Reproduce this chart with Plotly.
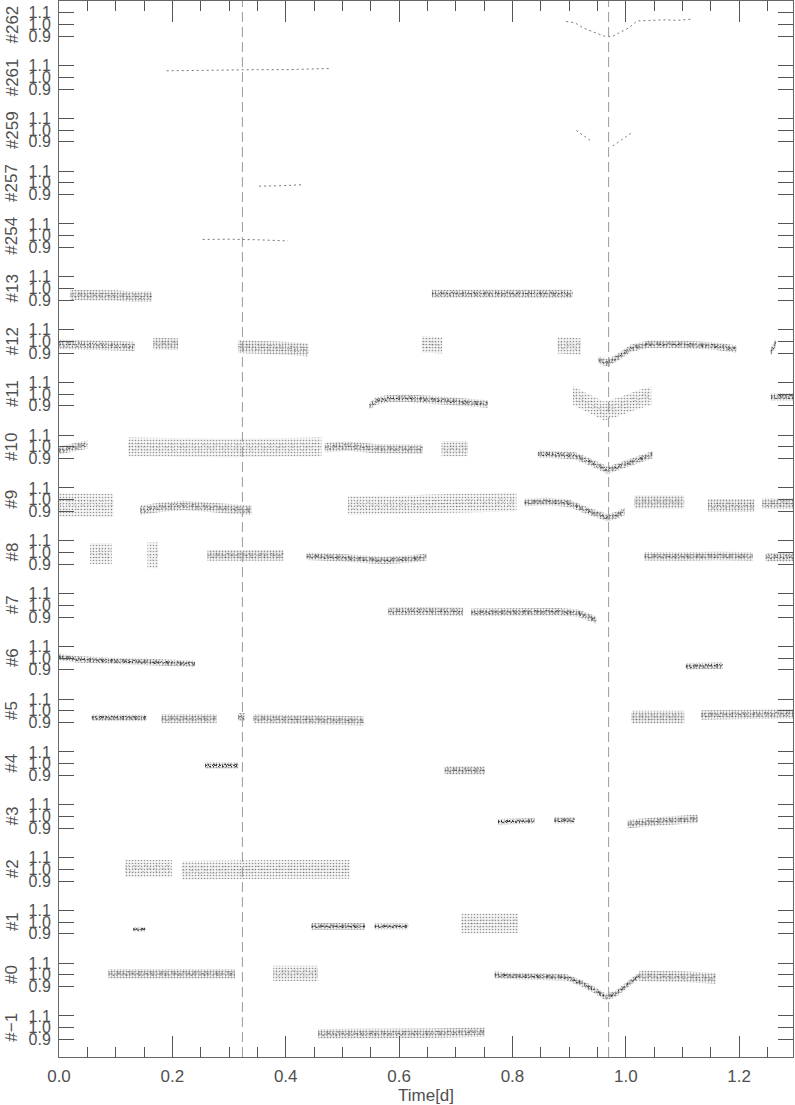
import plotly.graph_objects as go

# star labels, top to bottom
labels = ["#262", "#261", "#259", "#257", "#254", "#13", "#12", "#11", "#10",
          "#9", "#8", "#7", "#6", "#5", "#4", "#3", "#2", "#1", "#0", "#\u22121"]

# light curve pieces: (time [d], relative flux, visible scatter half-width)
lc_262 = [([0.895, 0.91, 0.925, 0.945, 0.962, 0.975, 0.99, 1.005, 1.02, 1.04, 1.07, 1.09, 1.115],
           [1.025, 1.015, 0.97, 0.93, 0.9, 0.895, 0.93, 0.97, 1.03, 1.035, 1.04, 1.035, 1.045], 0.0)]
lc_261 = [([0.19, 0.25, 0.3, 0.35, 0.4, 0.44, 0.48], [1.055, 1.06, 1.06, 1.065, 1.065, 1.07, 1.075], 0.0)]
lc_259 = [([0.9126, 0.939], [0.997, 0.906], 0.0),
          ([0.977, 1.0106], [0.864, 0.978], 0.0)]
lc_257 = [([0.353, 0.39, 0.432], [0.972, 0.975, 0.985], 0.0)]
lc_254 = [([0.2535, 0.3, 0.35, 0.404], [0.968, 0.97, 0.965, 0.955], 0.0)]
lc_13 = [([0.02, 0.06, 0.1, 0.13, 0.164], [0.945, 0.945, 0.94, 0.93, 0.93], 0.045),
         ([0.658, 0.72, 0.78, 0.84, 0.906], [0.955, 0.958, 0.955, 0.957, 0.953], 0.035)]
lc_12 = [([0.0, 0.05, 0.1, 0.134], [0.975, 0.97, 0.962, 0.955], 0.04),
         ([0.1665, 0.21], [0.98, 0.975], 0.05),
         ([0.316, 0.36, 0.4, 0.44], [0.955, 0.95, 0.94, 0.925], 0.055),
         ([0.64, 0.676], [0.975, 0.965], 0.07),
         ([0.88, 0.921], [0.965, 0.955], 0.07),
         ([0.952, 0.968, 0.988, 1.009, 1.04, 1.1, 1.15, 1.195],
          [0.84, 0.815, 0.87, 0.94, 0.975, 0.972, 0.962, 0.935], 0.032),
         ([1.256, 1.265], [0.91, 0.99], 0.035)]
lc_11 = [([0.548, 0.56, 0.58, 0.61, 0.65, 0.7, 0.757], [0.9, 0.94, 0.96, 0.965, 0.955, 0.935, 0.915], 0.032),
         ([0.907, 0.93, 0.962, 0.99, 1.02, 1.045], [0.985, 0.93, 0.855, 0.895, 0.95, 0.985], 0.08),
         ([1.256, 1.295], [0.975, 0.975], 0.032)]
lc_10 = [([0.0, 0.05], [0.97, 1.02], 0.035),
         ([0.1225, 0.2, 0.3, 0.4, 0.463], [1.0, 0.995, 0.99, 0.995, 1.0], 0.08),
         ([0.469, 0.51, 0.56, 0.6, 0.642], [0.995, 1.005, 0.985, 0.985, 0.98], 0.04),
         ([0.675, 0.7215], [0.985, 0.985], 0.065),
         ([0.845, 0.88, 0.91, 0.94, 0.968, 0.99, 1.01, 1.03, 1.048],
          [0.94, 0.935, 0.925, 0.865, 0.8, 0.837, 0.871, 0.905, 0.935], 0.032)]
lc_9 = [([0.0, 0.05, 0.096], [0.955, 0.95, 0.95], 0.1),
        ([0.143, 0.18, 0.22, 0.26, 0.3, 0.34], [0.91, 0.935, 0.95, 0.937, 0.92, 0.91], 0.04),
        ([0.51, 0.6, 0.7, 0.807], [0.95, 0.955, 0.97, 0.98], 0.08),
        ([0.8215, 0.86, 0.9, 0.93, 0.968, 0.985, 0.998], [0.975, 0.985, 0.97, 0.91, 0.845, 0.87, 0.9], 0.032),
        ([1.015, 1.103], [0.98, 0.98], 0.055),
        ([1.145, 1.227], [0.95, 0.95], 0.055),
        ([1.241, 1.295], [0.966, 0.966], 0.045)]
lc_8 = [([0.055, 0.093], [0.99, 0.99], 0.09),
        ([0.156, 0.175], [0.975, 0.975], 0.11),
        ([0.262, 0.3, 0.33, 0.36, 0.396], [0.975, 0.975, 0.98, 0.975, 0.975], 0.045),
        ([0.437, 0.5, 0.571, 0.62, 0.648], [0.967, 0.955, 0.932, 0.945, 0.96], 0.032),
        ([1.033, 1.1, 1.16, 1.224], [0.967, 0.965, 0.97, 0.965], 0.036),
        ([1.247, 1.295], [0.96, 0.96], 0.036)]
lc_7 = [([0.5807, 0.64, 0.713], [0.948, 0.95, 0.945], 0.036),
        ([0.7275, 0.8, 0.88, 0.915, 0.935, 0.948], [0.94, 0.94, 0.945, 0.935, 0.9, 0.875], 0.032)]
lc_6 = [([0.0, 0.03, 0.1, 0.17, 0.24], [1.01, 0.99, 0.975, 0.965, 0.952], 0.028),
        ([1.106, 1.171], [0.93, 0.935], 0.028)]
lc_5 = [([0.058, 0.155], [0.942, 0.94], 0.028),
        ([0.181, 0.278], [0.934, 0.934], 0.04),
        ([0.316, 0.328], [0.947, 0.947], 0.035),
        ([0.343, 0.44, 0.537], [0.934, 0.925, 0.915], 0.04),
        ([1.01, 1.103], [0.947, 0.947], 0.055),
        ([1.133, 1.2, 1.295], [0.965, 0.97, 0.975], 0.04)]
lc_4 = [([0.2576, 0.316], [0.985, 0.985], 0.028),
        ([0.6806, 0.751], [0.943, 0.943], 0.036)]
lc_3 = [([0.7745, 0.839], [0.955, 0.962], 0.024),
        ([0.874, 0.91], [0.967, 0.967], 0.028),
        ([1.0035, 1.06, 1.127], [0.935, 0.96, 0.98], 0.036)]
lc_2 = [([0.1167, 0.199], [1.005, 1.005], 0.075),
        ([0.2165, 0.3, 0.4, 0.513], [0.99, 0.995, 1.0, 1.0], 0.08)]
lc_1 = [([0.131, 0.152], [0.938, 0.938], 0.02),
        ([0.4456, 0.54], [0.963, 0.963], 0.028),
        ([0.557, 0.616], [0.963, 0.963], 0.024),
        ([0.71, 0.81], [0.986, 0.99], 0.085)]
lc_0 = [([0.0873, 0.2, 0.3105], [1.01, 1.01, 1.01], 0.04),
        ([0.378, 0.457], [1.013, 1.013], 0.065),
        ([0.7687, 0.8, 0.85, 0.895, 0.924, 0.945, 0.965, 0.983, 1.0, 1.012, 1.024],
         [1.0, 0.99, 0.985, 0.98, 0.925, 0.87, 0.81, 0.84, 0.905, 0.953, 0.99], 0.028),
        ([1.024, 1.06, 1.1, 1.159], [0.99, 0.985, 0.985, 0.97], 0.045)]
lc_m1 = [([0.4573, 0.55, 0.65, 0.751], [0.948, 0.948, 0.952, 0.962], 0.04)]

curves = [lc_262, lc_261, lc_259, lc_257, lc_254, lc_13, lc_12, lc_11, lc_10,
          lc_9, lc_8, lc_7, lc_6, lc_5, lc_4, lc_3, lc_2, lc_1, lc_0, lc_m1]

event_times = [0.3236, 0.9697]
x_ticks = [0.0, 0.2, 0.4, 0.6, 0.8, 1.0, 1.2]
y_ticks = [0.9, 1.0, 1.1]

STEP = 0.45
n = len(labels)
font = "Liberation Sans, Arial, sans-serif"
txt = "#505050"

# broken strands inside each band to give a stippled core
strands = [(-0.35, "1px,3px,2px,2px,1px,4px"),
           (0.0, "2px,1px,1px,3px,1px,1px,3px,2px"),
           (0.35, "1px,2px,1px,4px,2px,1px")]

fig = go.Figure()

for i, (lab, segs) in enumerate(zip(labels, curves)):
    off = (n - 1 - i) * STEP
    for t, f, sp in segs:
        mid = [v + off for v in f]
        if sp == 0:
            fig.add_trace(go.Scatter(x=t, y=mid, mode="lines",
                                     line=dict(color="#777", width=1, dash="2px,3px"),
                                     hoverinfo="skip", showlegend=False))
            continue
        tight = min(1.0, 0.03 / sp)
        up = [v + sp for v in mid]
        lo = [v - sp for v in mid][::-1]
        fig.add_trace(go.Scatter(x=t + t[::-1], y=up + lo, mode="lines", fill="toself",
                                 line=dict(width=0, color="rgba(0,0,0,0)"),
                                 fillcolor="rgba(0,0,0,0)",
                                 fillpattern=dict(shape=".", size=3, solidity=0.16 + 0.2 * tight,
                                                  fgcolor="#333", bgcolor="rgba(0,0,0,0.04)"),
                                 hoverinfo="skip", showlegend=False))
        for frac, dash in strands:
            a = 0.15 + 0.6 * tight ** 2
            fig.add_trace(go.Scatter(x=t, y=[v + frac * sp for v in mid], mode="lines",
                                     line=dict(color="rgba(0,0,0,%.2f)" % a, width=1, dash=dash),
                                     hoverinfo="skip", showlegend=False))
    fig.add_annotation(x=-0.064, y=1.0 + off, xref="paper", yref="y", text=lab,
                       textangle=-90, showarrow=False, xanchor="center", yanchor="middle",
                       font=dict(size=17, color=txt, family=font))

for et in event_times:
    fig.add_vline(x=et, line=dict(color="#9a9a9a", width=1, dash="10px,5px"))

tickvals, ticktext = [], []
for k in range(n):
    for v in y_ticks:
        tickvals.append(v + k * STEP)
        ticktext.append("%.1f" % v)

fig.add_annotation(x=0.5, y=-0.036, xref="paper", yref="paper", text="Time[d]",
                   showarrow=False, xanchor="center", yanchor="middle",
                   font=dict(size=17, color=txt, family=font))

fig.update_layout(
    width=795, height=1105,
    margin=dict(l=59, r=2, t=1, b=48, autoexpand=False),
    paper_bgcolor="white", plot_bgcolor="white",
    font=dict(family=font, color=txt),
    xaxis=dict(range=[0, 1.295], tickvals=x_ticks, ticktext=["%.1f" % v for v in x_ticks],
               ticks="inside", ticklen=21, tickcolor="#555", showline=True, linecolor="#666",
               mirror="ticks", showgrid=False, zeroline=False, tickfont=dict(size=17),
               ticklabelstandoff=4, automargin=False,
               minor=dict(dtick=0.05, ticks="inside", ticklen=10, tickcolor="#555")),
    yaxis=dict(range=[0.75, 0.75 + 9.0], tickvals=tickvals, ticktext=ticktext,
               ticks="inside", ticklen=15, tickcolor="#555", showline=True, linecolor="#666",
               mirror="ticks", showgrid=False, zeroline=False, tickfont=dict(size=16),
               ticklabelstandoff=4, automargin=False),
)

fig.write_html("out.html", config={"displayModeBar": False},
               post_script="document.body.style.margin='0';")
